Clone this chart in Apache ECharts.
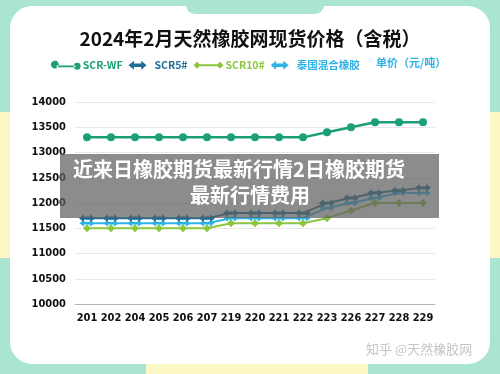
<!DOCTYPE html>
<html>
<head>
<meta charset="utf-8">
<script src="https://cdn.jsdelivr.net/npm/echarts@6/dist/echarts.min.js"></script>
<style>
  html, body { margin: 0; padding: 0; background: #a9e5cf; }
  #main { width: 500px; height: 374px; }
</style>
</head>
<body>
<div id="main"></div>
<script>
var days = ['201', '202', '204', '205', '206', '207', '219', '220', '221', '222', '223', '226', '227', '228', '229'];
var scrWF = [13300, 13300, 13300, 13300, 13300, 13300, 13300, 13300, 13300, 13300, 13400, 13500, 13600, 13600, 13600];
var scr5 = [11700, 11700, 11700, 11700, 11700, 11700, 11800, 11800, 11800, 11800, 12000, 12100, 12200, 12250, 12300];
var scr10 = [11500, 11500, 11500, 11500, 11500, 11500, 11600, 11600, 11600, 11600, 11700, 11850, 12000, 12000, 12000];
var mixed = [11600, 11600, 11600, 11600, 11600, 11600, 11700, 11700, 11700, 11700, 11900, 12000, 12100, 12200, 12200];
var yTicks = ['10000', '10500', '11000', '11500', '12000', '12500', '13000', '13500', '14000'];

var arrow = 'path://M0,5 L6,0 L6,3 L14,3 L14,0 L20,5 L14,10 L14,7 L6,7 L6,10 Z';
var dotLine = 'path://M0,4 A4,4 0 1,0 8,0 A4,4 0 1,0 0,4 Z M6,3 L28,3 L28,5 L6,5 Z M26,4 A4,4 0 1,0 34,4 A4,4 0 1,0 26,4 Z';
var diaLine = 'path://M0,4 L4,0 L8,4 L4,8 Z M6,3 L28,3 L28,5 L6,5 Z M26,4 L30,0 L34,4 L30,8 Z';

var myChart = echarts.init(document.getElementById('main'));
var option = {
    backgroundColor: '#a9e5cf',
    title: {
        text: '2024年2月天然橡胶网现货价格（含税）',
        left: 'center',
        top: 24,
        textStyle: {
            fontFamily: 'Noto Sans CJK SC',
            fontSize: 19,
            fontWeight: 'bold',
            color: '#111'
        }
    },
    legend: {
        left: 46,
        top: 55,
        itemGap: 6,
        itemWidth: 30,
        itemHeight: 9,
        textStyle: { fontSize: 10.5, fontWeight: 'bold', fontFamily: 'Noto Sans CJK SC', padding: [0, 0, 0, -3] },
        data: [
            { name: 'SCR-WF', icon: dotLine, itemStyle: { color: '#1b9f78' }, textStyle: { color: '#1b9f78' } },
            { name: 'SCR5#', icon: arrow, itemStyle: { color: '#1e6f98' }, textStyle: { color: '#1e6f98' } },
            { name: 'SCR10#', icon: diaLine, itemStyle: { color: '#8cc63f' }, textStyle: { color: '#8cc63f' } },
            { name: '泰国混合橡胶', icon: arrow, itemStyle: { color: '#2fb3e6' }, textStyle: { color: '#2fb3e6' } }
        ]
    },
    grid: { left: 75, right: 65, top: 102, bottom: 70 },
    xAxis: {
        type: 'category',
        data: days,
        axisLine: { lineStyle: { color: '#b5b5b5' } },
        axisTick: { show: false },
        axisLabel: { color: '#111', fontSize: 11, fontWeight: 'bold', fontFamily: 'DejaVu Sans Condensed', margin: 9, interval: 0 }
    },
    yAxis: {
        type: 'value',
        min: 10000,
        max: 14000,
        interval: 500,
        axisLine: { show: false },
        axisTick: { show: false },
        splitLine: { lineStyle: { color: '#e8e8e8' } },
        axisLabel: {
            color: '#111', fontSize: 11, fontWeight: 'bold', fontFamily: 'DejaVu Sans Condensed', margin: 9,
            formatter: function(v) { return yTicks[(v - 10000) / 500]; }
        }
    },
    series: [{
        name: 'SCR-WF', type: 'line', data: scrWF,
        symbol: 'circle', symbolSize: 8,
        lineStyle: { width: 2.5, color: '#1b9f78' }, itemStyle: { color: '#1b9f78' }
    }, {
        name: 'SCR10#', type: 'line', data: scr10,
        symbol: 'diamond', symbolSize: 8,
        lineStyle: { width: 2, color: '#8cc63f' }, itemStyle: { color: '#8cc63f' }
    }, {
        name: '泰国混合橡胶', type: 'line', data: mixed,
        symbol: arrow, symbolSize: [15, 7],
        lineStyle: { width: 2, color: '#2fb3e6' }, itemStyle: { color: '#2fb3e6' }
    }, {
        name: 'SCR5#', type: 'line', data: scr5,
        symbol: arrow, symbolSize: [16, 8],
        lineStyle: { width: 2, color: '#1e6f98' }, itemStyle: { color: '#1e6f98' }
    }],
    graphic: [
        { type: 'rect', z: -10, silent: true, shape: { x: 10, y: 6, width: 480, height: 358, r: 22 }, style: { fill: '#ffffff' } },
        { type: 'rect', z: -9, silent: true, shape: { x: 186, y: -10, width: 138, height: 24, r: 9 }, style: { fill: '#a9e5cf' } },
        { type: 'rect', z: -11, silent: true, shape: { x: 0, y: 112, width: 12, height: 146 }, style: { fill: '#fcf8c6' } },
        { type: 'rect', z: -11, silent: true, shape: { x: 488, y: 112, width: 12, height: 146 }, style: { fill: '#fcf8c6' } },
        { type: 'rect', z: -11, silent: true, shape: { x: 146, y: 358, width: 222, height: 16 }, style: { fill: '#fcf8c6' } },
        { type: 'text', x: 376, y: 57, style: { text: '单价（元/吨）', fill: '#2fb3e6', font: 'bold 11px "Noto Sans CJK SC"' } },
        { type: 'text', x: 366, y: 343, style: { text: '知乎 @天然橡胶网', fill: '#c4c4c4', font: '13px "Noto Sans CJK SC"' } },
        { type: 'rect', z: 100, silent: true, shape: { x: 60, y: 154, width: 379, height: 64 }, style: { fill: 'rgba(95,95,95,0.72)' } },
        { type: 'text', z: 101, x: 239, y: 159, style: { text: '近来日橡胶期货最新行情2日橡胶期货', fill: '#ffffff', align: 'center', font: 'bold 20px "Noto Sans CJK SC"' } },
        { type: 'text', z: 101, x: 250, y: 185, style: { text: '最新行情费用', fill: '#ffffff', align: 'center', font: 'bold 20px "Noto Sans CJK SC"' } }
    ]
};
myChart.setOption(option);
</script>
</body>
</html>
